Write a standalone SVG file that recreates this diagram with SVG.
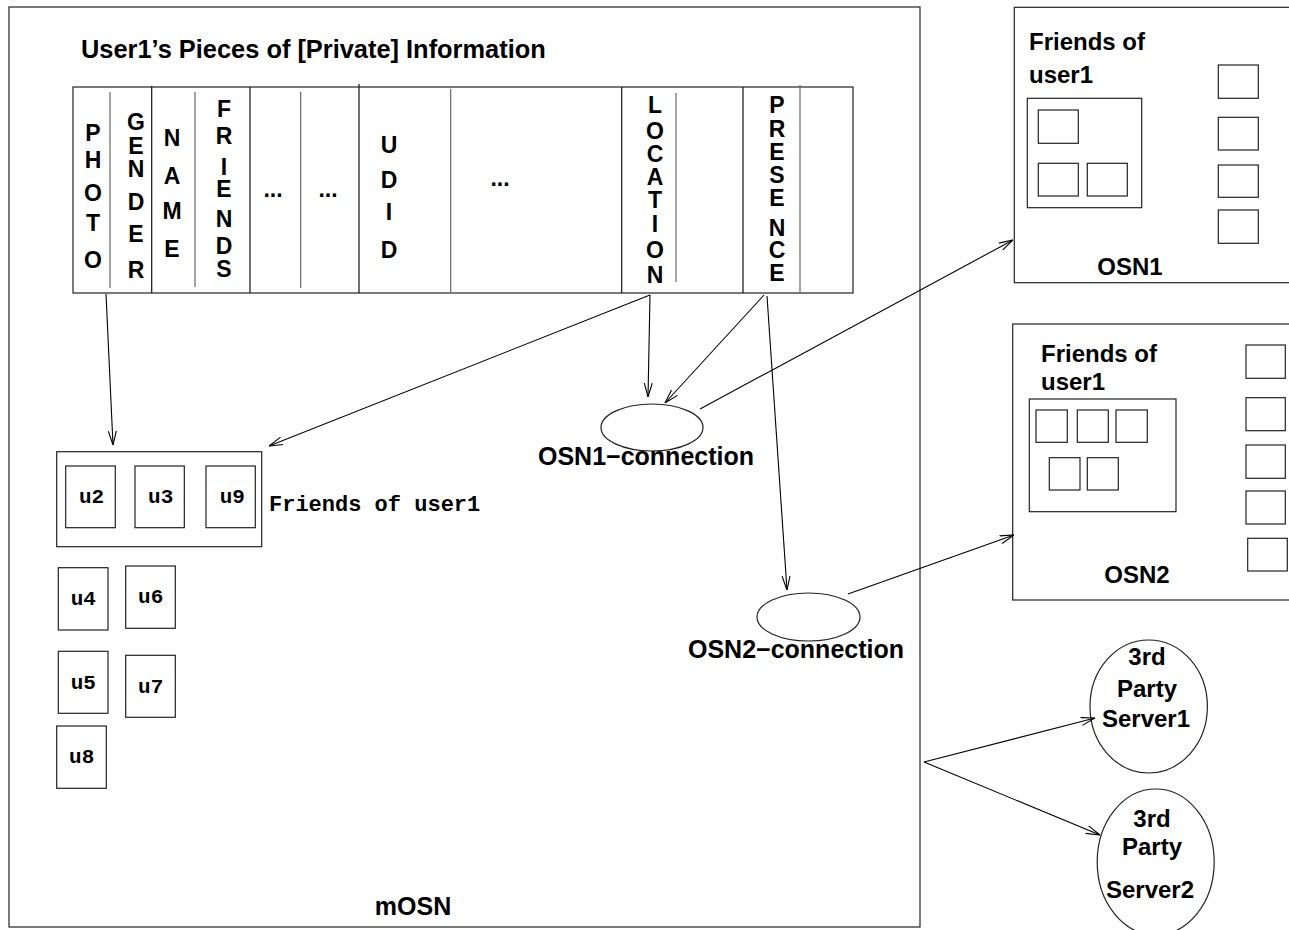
<svg xmlns="http://www.w3.org/2000/svg" width="1289" height="930" viewBox="0 0 1289 930">
<style>
.box{fill:none;stroke:#222;stroke-width:1.2}
.full{stroke:#111;stroke-width:1.2}
.part{stroke:#666;stroke-width:1.2}
.hv{font-family:"Liberation Sans",Arial,sans-serif;font-weight:bold;fill:#000}
.v{font-size:23px;text-anchor:middle}
.lbl{font-size:24px}
.mono{font-family:"Liberation Mono","Courier New",monospace;font-weight:bold;font-size:21px;fill:#000;text-anchor:middle}
.monol{font-family:"Liberation Mono","Courier New",monospace;font-weight:bold;font-size:22px;fill:#000;text-anchor:start}
.conn{fill:none;stroke:#000;stroke-width:1.1}
</style>
<defs>
<marker id="ah" viewBox="0 0 14 10" refX="14" refY="5" markerWidth="14" markerHeight="10" markerUnits="userSpaceOnUse" orient="auto">
<path d="M0,1 L14,5 L0,9" fill="none" stroke="#000" stroke-width="1.1"/>
</marker>
</defs>
<rect width="1289" height="930" fill="#fff"/>

<g id="mOSN">
<rect class="box" x="9" y="7" width="911" height="920"/>
<text class="hv" x="81" y="58" font-size="25.4">User1’s Pieces of [Private] Information</text>
<text class="hv" x="413" y="915" font-size="25" text-anchor="middle">mOSN</text>
</g>

<g id="info-bar">
<rect class="box" x="73" y="87" width="780" height="206"/>
<line class="full" x1="151.7" y1="86" x2="151.7" y2="293"/>
<line class="full" x1="250" y1="87" x2="250" y2="293"/>
<line class="full" x1="359" y1="84" x2="359" y2="293"/>
<line class="full" x1="621.7" y1="87" x2="621.7" y2="293"/>
<line class="full" x1="743" y1="87" x2="743" y2="293"/>
<line class="part" x1="110" y1="92" x2="110" y2="288"/>
<line class="part" x1="195" y1="92" x2="195" y2="287"/>
<line class="part" x1="300.7" y1="92" x2="300.7" y2="288"/>
<line class="part" x1="450.7" y1="89" x2="450.7" y2="292"/>
<line class="part" x1="676" y1="93" x2="676" y2="282"/>
<line class="part" x1="800" y1="85" x2="800" y2="293"/>
<g class="hv v">
<text id="photo"><tspan x="93" y="141">P</tspan><tspan x="93" y="168">H</tspan><tspan x="93" y="201">O</tspan><tspan x="93" y="231">T</tspan><tspan x="93" y="268">O</tspan></text>
<text id="gender"><tspan x="136" y="130">G</tspan><tspan x="136" y="154">E</tspan><tspan x="136" y="177">N</tspan><tspan x="136" y="210">D</tspan><tspan x="136" y="242">E</tspan><tspan x="136" y="278">R</tspan></text>
<text id="name"><tspan x="172" y="146">N</tspan><tspan x="172" y="184">A</tspan><tspan x="172" y="219">M</tspan><tspan x="172" y="257">E</tspan></text>
<text id="friends"><tspan x="224" y="117">F</tspan><tspan x="224" y="144">R</tspan><tspan x="224" y="175">I</tspan><tspan x="224" y="197">E</tspan><tspan x="224" y="227">N</tspan><tspan x="224" y="254">D</tspan><tspan x="224" y="277">S</tspan></text>
<text x="273" y="197">...</text>
<text x="328" y="197">...</text>
<text id="udid"><tspan x="389" y="153">U</tspan><tspan x="389" y="188">D</tspan><tspan x="389" y="220">I</tspan><tspan x="389" y="258">D</tspan></text>
<text x="500" y="186">...</text>
<text id="location"><tspan x="655" y="113">L</tspan><tspan x="655" y="139">O</tspan><tspan x="655" y="162">C</tspan><tspan x="655" y="185">A</tspan><tspan x="655" y="208">T</tspan><tspan x="655" y="232">I</tspan><tspan x="655" y="258">O</tspan><tspan x="655" y="283">N</tspan></text>
<text id="presence"><tspan x="777" y="113">P</tspan><tspan x="777" y="137">R</tspan><tspan x="777" y="160">E</tspan><tspan x="777" y="183">S</tspan><tspan x="777" y="206">E</tspan><tspan x="777" y="236">N</tspan><tspan x="777" y="258">C</tspan><tspan x="777" y="281">E</tspan></text>
</g>
</g>

<g id="friends-mOSN">
<rect class="box" x="56.7" y="451.7" width="205" height="95"/>
<rect class="box" x="65.7" y="466" width="49.6" height="61.7"/>
<rect class="box" x="135" y="466" width="49.3" height="61.7"/>
<rect class="box" x="206" y="466" width="49.3" height="61.7"/>
<text class="mono" x="91.5" y="503">u2</text>
<text class="mono" x="160.7" y="503">u3</text>
<text class="mono" x="232.3" y="503">u9</text>
<text class="monol" x="269" y="511">Friends of user1</text>
</g>
<g id="u4"><rect class="box" x="58.3" y="567.7" width="49.7" height="62.3"/><text class="mono" x="83.3" y="605">u4</text></g>
<g id="u6"><rect class="box" x="125.7" y="566" width="49.6" height="62.3"/><text class="mono" x="150.7" y="603">u6</text></g>
<g id="u5"><rect class="box" x="58.3" y="651.3" width="49.7" height="62"/><text class="mono" x="83.3" y="689">u5</text></g>
<g id="u7"><rect class="box" x="125.7" y="655.3" width="49.6" height="62"/><text class="mono" x="150.7" y="693">u7</text></g>
<g id="u8"><rect class="box" x="56.7" y="726" width="49.6" height="62.3"/><text class="mono" x="81.7" y="763">u8</text></g>

<g id="osn1-connection">
<ellipse class="box" cx="652" cy="427.5" rx="51" ry="23.5"/>
<text class="hv" x="646" y="465" font-size="25" text-anchor="middle">OSN1−connection</text>
</g>
<g id="osn2-connection">
<ellipse class="box" cx="808.5" cy="617" rx="51.5" ry="24"/>
<text class="hv" x="796" y="658" font-size="25" text-anchor="middle">OSN2−connection</text>
</g>

<g id="OSN1">
<rect class="box" x="1014.3" y="7.3" width="300" height="275.4"/>
<text class="hv lbl" x="1029" y="50">Friends of</text>
<text class="hv lbl" x="1029" y="83">user1</text>
<rect class="box" x="1027.3" y="98.3" width="114.4" height="109.4"/>
<rect class="box" x="1038.3" y="110" width="40" height="33.3"/>
<rect class="box" x="1038.3" y="163.3" width="40" height="32.7"/>
<rect class="box" x="1087.3" y="163.3" width="40" height="32.7"/>
<rect class="box" x="1218.3" y="65" width="40" height="33.3"/>
<rect class="box" x="1218.3" y="117.3" width="40" height="32.7"/>
<rect class="box" x="1218.3" y="165" width="40" height="32.3"/>
<rect class="box" x="1218.3" y="210" width="40" height="33.3"/>
<text class="hv lbl" x="1130" y="275" text-anchor="middle">OSN1</text>
</g>

<g id="OSN2">
<rect class="box" x="1012.7" y="324" width="300" height="276"/>
<text class="hv lbl" x="1041" y="362">Friends of</text>
<text class="hv lbl" x="1041" y="390">user1</text>
<rect class="box" x="1029.3" y="399" width="146.7" height="112.7"/>
<rect class="box" x="1036" y="410" width="31.3" height="32.3"/>
<rect class="box" x="1077.3" y="410" width="31" height="32.3"/>
<rect class="box" x="1116" y="410" width="31.3" height="32.3"/>
<rect class="box" x="1049.3" y="457.7" width="30.7" height="32.3"/>
<rect class="box" x="1087.3" y="457.7" width="31" height="32.3"/>
<rect class="box" x="1246" y="345" width="39.3" height="33.3"/>
<rect class="box" x="1246" y="397.7" width="39.3" height="33"/>
<rect class="box" x="1246" y="445" width="39.3" height="33.3"/>
<rect class="box" x="1246" y="491" width="39.3" height="33"/>
<rect class="box" x="1247.7" y="538.3" width="39.6" height="32.7"/>
<text class="hv lbl" x="1137" y="583" text-anchor="middle">OSN2</text>
</g>

<g id="server1">
<ellipse class="box" cx="1148.7" cy="706.5" rx="58.7" ry="66.5"/>
<text class="hv lbl" x="1147" y="665" text-anchor="middle">3rd</text>
<text class="hv lbl" x="1147" y="697" text-anchor="middle">Party</text>
<text class="hv lbl" x="1146" y="727" text-anchor="middle">Server1</text>
</g>
<g id="server2">
<ellipse class="box" cx="1155.7" cy="862" rx="58.5" ry="73"/>
<text class="hv lbl" x="1152" y="827" text-anchor="middle">3rd</text>
<text class="hv lbl" x="1152" y="855" text-anchor="middle">Party</text>
<text class="hv lbl" x="1150" y="898" text-anchor="middle">Server2</text>
</g>

<g id="connectors">
<path class="conn" d="M106,294 L113,445" marker-end="url(#ah)"/>
<path class="conn" d="M650,295 L269,446" marker-end="url(#ah)"/>
<path class="conn" d="M650,295 L648,397" marker-end="url(#ah)"/>
<path class="conn" d="M764,295 L665,403" marker-end="url(#ah)"/>
<path class="conn" d="M767,296 L787,590" marker-end="url(#ah)"/>
<path class="conn" d="M700,409 L1013,240" marker-end="url(#ah)"/>
<path class="conn" d="M848,594 L1014,535" marker-end="url(#ah)"/>
<path class="conn" d="M924,762 L1095,718" marker-end="url(#ah)"/>
<path class="conn" d="M924,762 L1100,835" marker-end="url(#ah)"/>
</g>
</svg>
